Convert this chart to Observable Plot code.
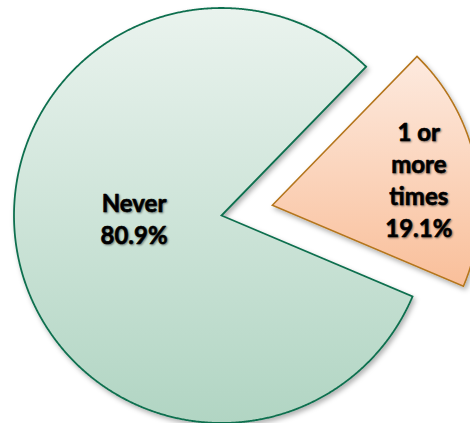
<!DOCTYPE html>
<html><head><meta charset="utf-8">
<script src="https://cdn.jsdelivr.net/npm/d3@7"></script>
<script src="https://cdn.jsdelivr.net/npm/@observablehq/plot@0.6"></script>
<style>
html,body{margin:0;padding:0;background:#fff;}
#chart svg text{ text-shadow: 1px 1px 2px rgba(0,0,0,0.4); }
</style></head><body><div id="chart"></div>
<script>
// ---- data ----
const categories = ["1 or more times", "Never"];
const values = [19.1, 80.9];
const labelLines = ["1 or\nmore\ntimes", "Never"];

// ---- layout ----
const W = 470, H = 423, R = 207.5, CX = 221, CY = 215;
const startDeg = 44.2;
const explode = [0.25, 0];
const gradIds = ["gOrange", "gGreen"];
const strokes = ["#b5761e", "#11704f"];
const strokeWidths = [1.6, 1.8];
const labelR = [0.72, 0.43];
const labelDy = [3, -15];

const start = startDeg * Math.PI / 180;
const arcs = d3.pie().sort(null).startAngle(start).endAngle(start + 2 * Math.PI)(values);

const slices = arcs.map((p, i) => {
  const mid = (p.startAngle + p.endAngle) / 2;
  const ox = explode[i] * Math.sin(mid), oy = explode[i] * Math.cos(mid);
  const pts = [{x: ox, y: oy}];
  const n = Math.ceil((p.endAngle - p.startAngle) / 0.005);
  for (let k = 0; k <= n; k++) {
    const a = p.startAngle + (p.endAngle - p.startAngle) * k / n;
    pts.push({x: ox + Math.sin(a), y: oy + Math.cos(a)});
  }
  return {
    pts,
    label: {
      x: ox + labelR[i] * Math.sin(mid),
      y: oy + labelR[i] * Math.cos(mid),
      text: labelLines[i] + "\n" + values[i].toFixed(1) + "%"
    }
  };
});

const marks = [];
slices.forEach((s, i) => {
  marks.push(Plot.line(s.pts, {
    x: "x", y: "y", curve: "linear-closed",
    fill: `url(#${gradIds[i]})`, stroke: strokes[i], strokeWidth: strokeWidths[i],
    strokeLinejoin: "miter", strokeMiterlimit: 10
  }));
});
slices.forEach((s, i) => {
  marks.push(Plot.text([s.label], {
    x: "x", y: "y", text: "text", dy: labelDy[i],
    fontSize: 24, fontWeight: "bold", fill: "#000", lineHeight: 1.33,
    stroke: "#000", strokeWidth: 0.6,
    fontFamily: "Lato"
  }));
});

const svg = Plot.plot({
  width: W, height: H,
  margin: 0,
  x: {domain: [-CX / R, (W - CX) / R], range: [0, W], axis: null},
  y: {domain: [-(H - CY) / R, CY / R], range: [H, 0], axis: null},
  style: {background: "#fff", fontFamily: "Lato"},
  marks
});

const ns = "http://www.w3.org/2000/svg";
const defs = document.createElementNS(ns, "defs");
defs.innerHTML = `
<linearGradient id="gGreen" x1="0" y1="0" x2="0" y2="1">
  <stop offset="0" stop-color="#eaf3ee"/>
  <stop offset="1" stop-color="#b1d5c3"/>
</linearGradient>
<linearGradient id="gOrange" x1="0" y1="0" x2="0" y2="1">
  <stop offset="0" stop-color="#fdeadf"/>
  <stop offset="1" stop-color="#f9bf9a"/>
</linearGradient>
<filter id="shadow" x="-10%" y="-10%" width="130%" height="130%">
  <feDropShadow dx="2" dy="3" stdDeviation="2.5" flood-color="#000" flood-opacity="0.3"/>
</filter>`;
svg.insertBefore(defs, svg.firstChild);
svg.querySelectorAll("g[aria-label='line'] path").forEach(p => p.setAttribute("filter", "url(#shadow)"));
document.getElementById("chart").appendChild(svg);
</script></body></html>
